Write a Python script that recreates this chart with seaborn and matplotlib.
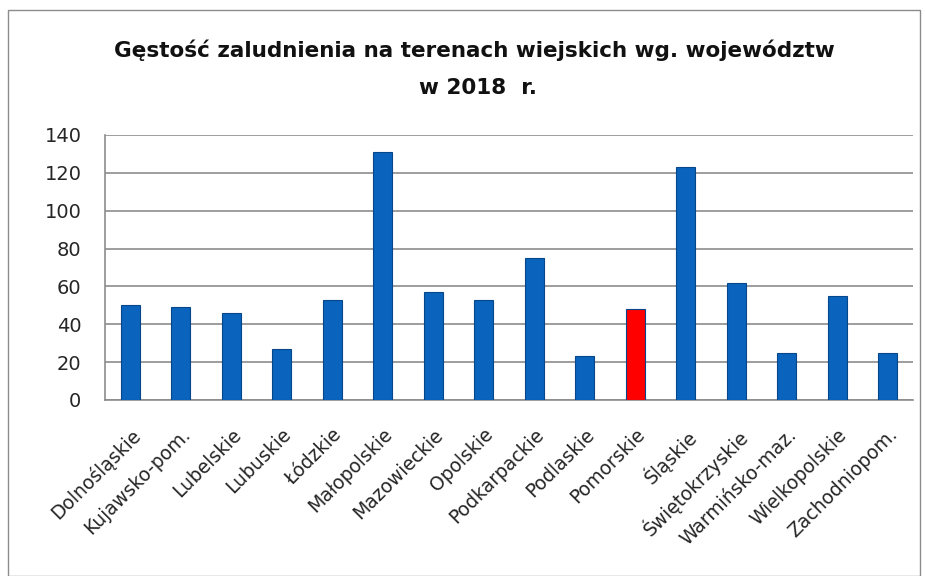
import matplotlib
matplotlib.use("Agg")
import matplotlib.pyplot as plt
import seaborn as sns
import pandas as pd
from matplotlib.patches import Rectangle

regions = ["Dolnośląskie", "Kujawsko-pom.", "Lubelskie", "Lubuskie", "Łódzkie",
           "Małopolskie", "Mazowieckie", "Opolskie", "Podkarpackie", "Podlaskie",
           "Pomorskie", "Śląskie", "Świętokrzyskie", "Warmińsko-maz.",
           "Wielkopolskie", "Zachodniopom."]
density = [50, 49, 46, 27, 53, 131, 57, 53, 75, 23, 48, 123, 62, 25, 55, 25]
highlight = "Pomorskie"

sns.set_style("white")
plt.rcParams["font.family"] = ["DejaVu Sans"]

df = pd.DataFrame({"region": regions, "density": density})
df["group"] = ["hl" if r == highlight else "base" for r in regions]

fig = plt.figure(figsize=(9.26, 5.76), dpi=100)
ax = fig.add_axes([0.1134, 0.3056, 0.8726, 0.4601])

sns.barplot(data=df, x="region", y="density", hue="group",
            palette={"base": "#0a64bd", "hl": "#ff0000"}, saturation=1,
            width=0.38, dodge=False, legend=False, ax=ax,
            edgecolor="#07468a", linewidth=0.8, zorder=3)

ax.set_ylim(0, 140)
ax.set_yticks(range(0, 141, 20))
ax.set_xlim(-0.5, len(regions) - 0.5)
ax.yaxis.grid(True, color="#8c8c8c", linewidth=1.2, zorder=0)
ax.set_axisbelow(True)
ax.set_xlabel("")
ax.set_ylabel("")

for s in ["top", "right"]:
    ax.spines[s].set_visible(False)
for s in ["left", "bottom"]:
    ax.spines[s].set_color("#8c8c8c")
    ax.spines[s].set_linewidth(1.2)

# category boundary ticks on x axis
ax.set_xticks([i - 0.5 for i in range(len(regions) + 1)], minor=True)
ax.tick_params(axis="x", which="minor", length=6, color="#8c8c8c", width=1.2)
ax.tick_params(axis="x", which="major", length=0, labelsize=13.5, pad=18,
               labelcolor="#262626")
ax.tick_params(axis="y", length=6, color="#8c8c8c", width=1.2, labelsize=14,
               pad=11, labelcolor="#262626")
plt.setp(ax.get_xticklabels(), rotation=45, ha="right", rotation_mode="anchor")

title_kw = dict(ha="center", va="center", fontsize=15.5, fontweight="bold",
                color="#111111")
fig.text(0.512, 0.913, "Gęstość zaludnienia na terenach wiejskich wg. województw",
         **title_kw)
fig.text(0.516, 0.847, "w 2018  r.", **title_kw)

fig.patches.append(Rectangle((0.009, 0.0), 0.985, 0.983, transform=fig.transFigure,
                             fill=False, edgecolor="#8c8c8c", linewidth=1.0))

fig.savefig("out.png", dpi=100)
